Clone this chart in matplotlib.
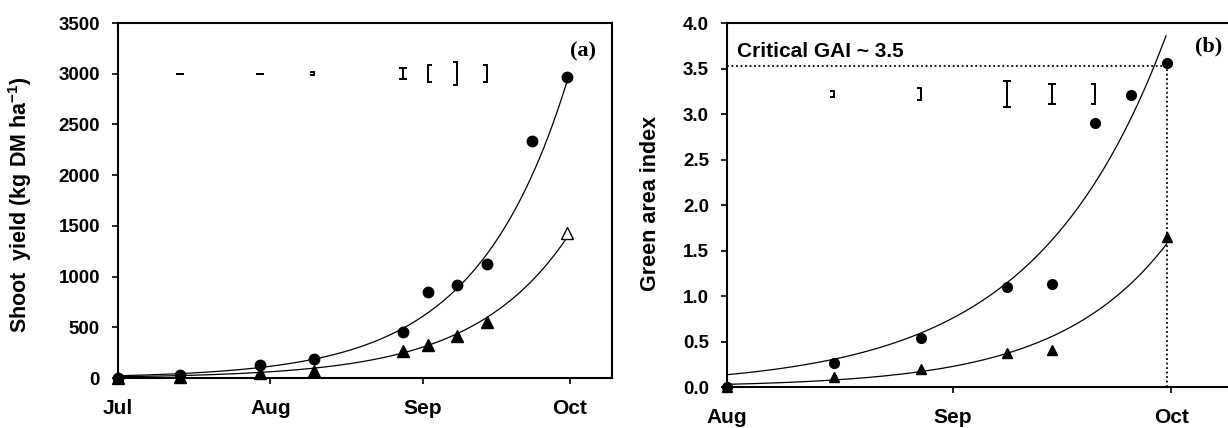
import matplotlib
matplotlib.use("Agg")
import matplotlib.pyplot as plt
import numpy as np

plt.rcParams['font.family'] = ['Liberation Sans', 'DejaVu Sans']
plt.rcParams['font.weight'] = 'bold'
plt.rcParams['mathtext.fontset'] = 'custom'
plt.rcParams['mathtext.rm'] = 'Liberation Sans:bold'
plt.rcParams['mathtext.bf'] = 'Liberation Sans:bold'

# ---- panel (a): shoot yield, x = days from 1 July ----
yield_days_circ = [0, 12.6, 28.9, 39.9, 58, 63.1, 69, 75.1, 84.3, 91.3]
yield_circ = [0, 30, 128, 187, 450, 850, 920, 1120, 2340, 2970]
yield_days_tri = [0, 12.6, 28.9, 39.9, 58, 63.1, 69, 75.1]
yield_tri = [0, 5, 50, 70, 265, 330, 410, 550]
yield_day_open = [91.3]
yield_open = [1430]
yield_err_days = [12.6, 28.9, 39.9, 58, 63.1, 69, 75.1]
yield_err = [0, 0, 15, 54, 86, 112, 86]
yield_err_side = ['both', 'both', 'left', 'both', 'right', 'left', 'left']
yield_err_level = 3000
# exponential trendlines: y = a * exp(b * t)
yield_trend = [(22.0, 0.0535, 91.3), (12.4, 0.0516, 91.3)]
yield_ticks = [0, 31, 62, 92]
yield_ticklabels = ['Jul', 'Aug', 'Sep', 'Oct']

# ---- panel (b): green area index, x = days from 1 August ----
gai_days_circ = [0, 14.7, 26.6, 38.5, 44.6, 50.5, 55.5, 60.4]
gai_circ = [0, 0.26, 0.54, 1.10, 1.13, 2.90, 3.21, 3.56]
gai_days_tri = [0, 14.7, 26.6, 38.5, 44.6, 60.4]
gai_tri = [0, 0.11, 0.20, 0.37, 0.41, 1.65]
gai_err_days = [14.7, 26.6, 38.5, 44.6, 50.5]
gai_err = [0.03, 0.065, 0.14, 0.11, 0.11]
gai_err_side = ['left', 'left', 'both', 'both', 'left']
gai_err_level = 3.22
gai_trend = [(0.135, 0.0556, 60.3), (0.0292, 0.066, 60.4)]
gai_ticks = [0, 31, 61]
gai_ticklabels = ['Aug', 'Sep', 'Oct']
critical_gai = 3.53
critical_day = 60.5

fig = plt.figure(figsize=(12.28, 4.28), dpi=100)
ax1 = fig.add_axes([0.09609, 0.11682, 0.40228, 0.82944])
ax2 = fig.add_axes([0.59202, 0.09579, 0.41498, 0.85047])

caps = {'both': '_', 'right': [(0, 0), (1, 0)], 'left': [(-1, 0), (0, 0)]}


def draw_errbars(ax, days, errs, sides, level, capsize):
    for d, e, s in zip(days, errs, sides):
        ax.plot([d, d], [level - e, level + e], color='k', lw=1.4)
        ms = capsize if s == 'both' else capsize * 0.9
        ax.plot([d, d], [level - e, level + e], ls='none', marker=caps[s],
                ms=ms, mew=1.4, color='k')


def style_axes(ax):
    for sp in ax.spines.values():
        sp.set_linewidth(1.5)
    ax.tick_params(axis='both', direction='out', length=4, width=1.2)
    ax.tick_params(axis='y', labelsize=13.5, pad=9)
    ax.tick_params(axis='x', labelsize=15, pad=11)


# panel (a)
for a, b, tend in yield_trend:
    t = np.linspace(0, tend, 200)
    ax1.plot(t, a * np.exp(b * t), color='k', lw=0.9)
ax1.plot(yield_days_circ, yield_circ, 'o', color='k', ms=7.5, clip_on=False)
ax1.plot(yield_days_tri, yield_tri, '^', color='k', ms=8, clip_on=False)
ax1.plot(yield_day_open, yield_open, '^', mfc='white', mec='k', mew=1.0, ms=8)
draw_errbars(ax1, yield_err_days, yield_err, yield_err_side, yield_err_level, 6)
ax1.text(94.6, 3224, '(a)', fontsize=16, family='Liberation Serif', fontweight='bold',
         ha='center', va='center')
ax1.set_xlim(0, 100.55)
ax1.set_ylim(0, 3500)
ax1.set_yticks(np.arange(0, 3501, 500))
ax1.set_xticks(yield_ticks)
ax1.set_xticklabels(yield_ticklabels)
style_axes(ax1)
ax1.set_ylabel(r'Shoot  yield (kg DM ha$^{-1}$)', fontsize=15.5, fontweight='bold')
ax1.yaxis.set_label_coords(-0.170, 0.487)

# panel (b)
for a, b, tend in gai_trend:
    t = np.linspace(0, tend, 200)
    ax2.plot(t, a * np.exp(b * t), color='k', lw=0.9)
ax2.plot([0, critical_day], [critical_gai, critical_gai], color='k',
         ls=(0, (1, 1.5)), lw=1.3)
ax2.plot([critical_day, critical_day], [0, critical_gai], color='k',
         ls=(0, (1, 1.5)), lw=1.3)
ax2.plot(gai_days_circ, gai_circ, 'o', color='k', ms=7, clip_on=False)
ax2.plot(gai_days_tri, gai_tri, '^', color='k', ms=7.5, clip_on=False)
draw_errbars(ax2, gai_err_days, gai_err, gai_err_side, gai_err_level, 6)
ax2.text(1.4, 3.63, 'Critical GAI ~ 3.5', fontsize=15, fontweight='bold',
         ha='left', va='baseline')
ax2.text(66.1, 3.74, '(b)', fontsize=16, family='Liberation Serif', fontweight='bold',
         ha='center', va='center')
ax2.set_xlim(0, 70)
ax2.set_ylim(0, 4.0)
ax2.set_yticks(np.arange(0, 4.01, 0.5))
ax2.set_yticklabels([f'{v:.1f}' for v in np.arange(0, 4.01, 0.5)])
ax2.set_xticks(gai_ticks)
ax2.set_xticklabels(gai_ticklabels)
style_axes(ax2)
ax2.set_ylabel('Green area index', fontsize=15.5, fontweight='bold')
ax2.yaxis.set_label_coords(-0.130, 0.503)

fig.savefig('out.png', dpi=100)
